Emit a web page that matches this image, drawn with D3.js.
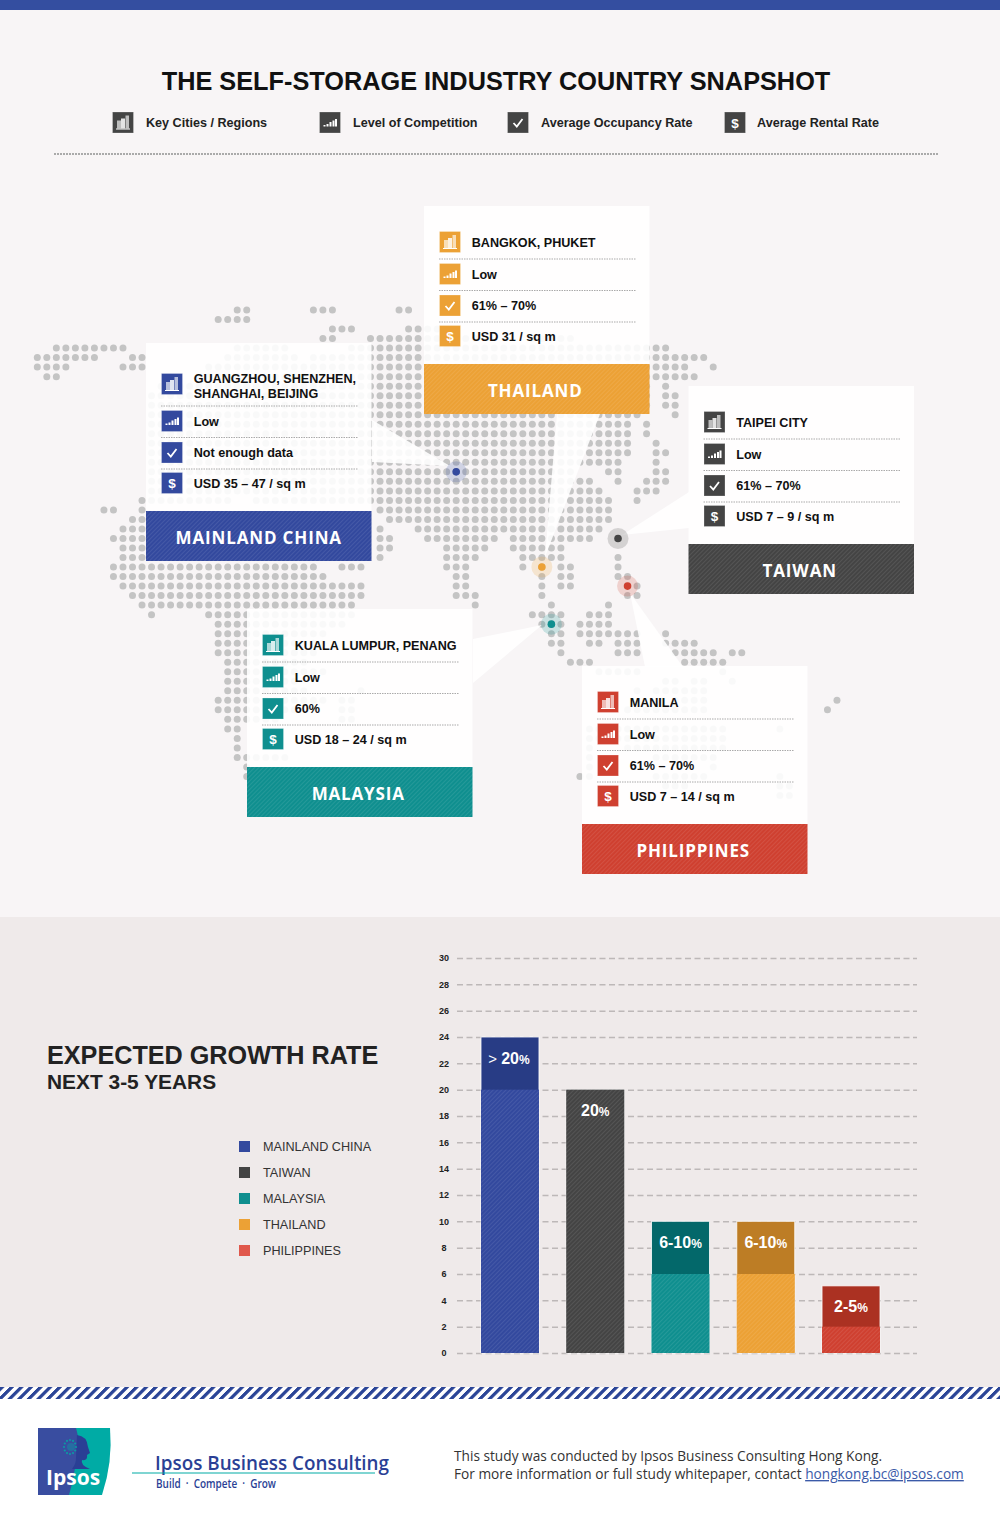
<!DOCTYPE html>
<html>
<head>
<meta charset="utf-8">
<script src="https://cdnjs.cloudflare.com/ajax/libs/d3/7.8.5/d3.min.js"></script>
<style>
html,body{margin:0;padding:0;background:#fff;}
svg{display:block;}
text{font-family:"Liberation Sans",Arial,sans-serif;}
</style>
</head>
<body>
<div id="chart"></div>
<script>
// 各國資料
var countries = ["MAINLAND CHINA", "THAILAND", "TAIWAN", "MALAYSIA", "PHILIPPINES"];
var cities = [["GUANGZHOU, SHENZHEN,", "SHANGHAI, BEIJING"], ["BANGKOK, PHUKET"], ["TAIPEI CITY"], ["KUALA LUMPUR, PENANG"], ["MANILA"]];
var competition = ["Low", "Low", "Low", "Low", "Low"];
var occupancy = ["Not enough data", "61% – 70%", "61% – 70%", "60%", "61% – 70%"];
var rental = ["USD 35 – 47 / sq m", "USD 31 / sq m", "USD 7 – 9 / sq m", "USD 18 – 24 / sq m", "USD 7 – 14 / sq m"];
var colors = ["#33499e", "#eca135", "#444444", "#0f8f8f", "#cf4030"];

// 成長率長條圖
var barOrder = ["MAINLAND CHINA", "TAIWAN", "MALAYSIA", "THAILAND", "PHILIPPINES"];
var barLow = [20, 20, 6, 6, 2];
var barHigh = [24, 20, 10, 10, 5.1];
var barPrefix = ["> ", "", "", "", ""];
var barLabels = ["20", "20", "6-10", "6-10", "2-5"];
var barColors = ["#33499e", "#444444", "#0f8f8f", "#eca135", "#cf4030"];
var barTopColors = ["#283c85", "#444444", "#03686a", "#bd7d25", "#ab3122"];
var legendColors = ["#33499e", "#444444", "#0f8f8f", "#eca135", "#e0584c"];
var yTicks = d3.range(0, 31, 2);

// 點陣地圖: 每一列是 欄起-欄迄
var mapRows = [
	"21-22 29-31 38-39",
	"19-22",
	"31-33 39-42",
	"30-31 35-46 52-56",
	"2-9 21-26 33-66",
	"0-6 10-11 20-27 29-70",
	"0-3 9-11 18-68 71",
	"1-2 17-69",
	"13-64 66",
	"12-64 66-67",
	"12-64 66-67",
	"12-63 67",
	"12-62 64",
	"12-62 64",
	"12-62 65",
	"12-62 65-66",
	"12-61 65",
	"12-56 60-61 65-66",
	"12-58 61 64-66",
	"12-59 63-65",
	"11-20 23-60 63",
	"7-8 11 36-60",
	"10-11 37-60",
	"9-11 36 40-59",
	"8-11 36-37 41-48 50-58",
	"9-11 36-37 43-47 50-55",
	"9-11 36 43-46 51-55 61",
	"8-29 32-34 43-45 51 53 55-56 61",
	"8-30 44-45 53 55-56 61-62",
	"9-34 44-45 53 55-56 63",
	"10-34 44-46 53 62-63",
	"11-33 46 54 60",
	"12 18-33 52-55 58-60",
	"19-32 53-55 57-60",
	"19-30 54-55 57-63 66",
	"19-30 54-55 58-59 61-63 66-69",
	"19-29 55 61-63 67-71 73-74",
	"20-28 56-58 68-72",
	"20-30 59-63 72",
	"20-27 66-67 69-70 73",
	"20-28 34 63 65-70",
	"19-30 32-33 67-70 84",
	"19-27 32-33 62-70 83",
	"20-25 32-33",
	"20-21 58-72 78",
	"21 58-72",
	"21 58 62-72",
	"21-26 58 65-71",
	"22 58 71",
	"22 57-58 65-70 78",
	"66-68 78-79",
	"78-79"
];
// 各國標記在點陣上的位置 [欄, 列]
var markerCells = [[44, 17], [53, 27], [61, 24], [54, 33], [62, 29]];

var width = 1000, height = 1527;
var svg = d3.select("#chart").append("svg").attr("width", width).attr("height", height);
var defs = svg.append("defs");

var col = d3.scaleLinear().domain([0, 10]).range([37.3, 132.5]);
var row = d3.scaleLinear().domain([0, 10]).range([310, 405.2]);

// 斜線底紋
function hatch(id, color, lineColor)
{
	var p = defs.append("pattern").attr("id", id)
		.attr("width", 3).attr("height", 3)
		.attr("patternUnits", "userSpaceOnUse")
		.attr("patternTransform", "rotate(-45)");
	p.append("rect").attr("width", 3).attr("height", 3).attr("fill", color);
	p.append("rect").attr("width", 3).attr("height", 1).attr("fill", lineColor);
}
colors.forEach(function(c, i){
	hatch("h" + i, c, c == "#444444" ? "#555555" : "rgba(255,255,255,0.09)");
});
barColors.forEach(function(c, i){
	hatch("b" + i, c, c == "#444444" ? "#555555" : "rgba(255,255,255,0.09)");
});

// 背景
svg.append("rect").attr("width", width).attr("height", height).attr("fill", "#fff");
svg.append("rect").attr("width", width).attr("height", 917).attr("fill", "#f8f5f6");
svg.append("rect").attr("width", width).attr("height", 10).attr("fill", "#344ea0");
svg.append("rect").attr("y", 917).attr("width", width).attr("height", 470).attr("fill", "#efeaea");

// 標題
svg.append("text").attr("x", 496).attr("y", 90).attr("text-anchor", "middle")
	.attr("font-size", 25.3).attr("font-weight", "bold").attr("fill", "#111")
	.text("THE SELF-STORAGE INDUSTRY COUNTRY SNAPSHOT");

// 畫小圖示
function drawIcon(g, kind, color, cx, cy)
{
	var ic = g.append("g").attr("transform", "translate(" + cx + "," + cy + ")");
	ic.append("rect").attr("x", -10.5).attr("y", -10.5).attr("width", 21).attr("height", 21)
		.attr("fill", color).attr("stroke", "#fff").attr("stroke-opacity", 0.25);
	if(kind == "city")
	{
		ic.append("rect").attr("x", -6).attr("y", -2).attr("width", 4).attr("height", 8).attr("fill", "#fff").attr("opacity", 0.65);
		ic.append("rect").attr("x", -2).attr("y", -4).attr("width", 4).attr("height", 10).attr("fill", "#fff").attr("opacity", 0.85);
		ic.append("rect").attr("x", 2.5).attr("y", -7).attr("width", 3.5).attr("height", 13).attr("fill", "#fff").attr("opacity", 0.65);
		ic.append("rect").attr("x", -7).attr("y", 6).attr("width", 14).attr("height", 1).attr("fill", "#fff");
	}
	else if(kind == "level")
	{
		[[-6.5, 1.5], [-3.5, 2.5], [-0.5, 4.5], [2.5, 6], [5, 7.5]].forEach(function(b){
			ic.append("rect").attr("x", b[0]).attr("y", 4 - b[1]).attr("width", 2).attr("height", b[1]).attr("fill", "#fff");
		});
	}
	else if(kind == "check")
	{
		ic.append("path").attr("d", "M-4.5,0.5 L-1.2,4 L4.5,-3.5").attr("fill", "none")
			.attr("stroke", "#fff").attr("stroke-width", 1.8);
	}
	else
	{
		ic.append("text").attr("y", 5).attr("text-anchor", "middle").attr("font-size", 13.5)
			.attr("font-weight", "bold").attr("fill", "#fff").text("$");
	}
}

// 上方圖例
var iconKinds = ["city", "level", "check", "rate"];
var legendNames = ["Key Cities / Regions", "Level of Competition", "Average Occupancy Rate", "Average Rental Rate"];
var legendIconX = [123, 330, 518, 735];
var legendTextX = [146, 353, 541, 757];
legendNames.forEach(function(d, i){
	drawIcon(svg, iconKinds[i], "#444444", legendIconX[i], 122.5);
	svg.append("text").attr("x", legendTextX[i]).attr("y", 127)
		.attr("font-size", 12.6).attr("font-weight", "bold").attr("fill", "#222").text(d);
});
svg.append("line").attr("x1", 54).attr("x2", 938).attr("y1", 154).attr("y2", 154)
	.attr("stroke", "#aaa").attr("stroke-width", 2).attr("stroke-dasharray", "2 1");

// 點陣地圖
var dots = [];
mapRows.forEach(function(line, r){
	line.split(" ").forEach(function(span){
		var p = span.split("-").map(Number);
		d3.range(p[0], (p.length > 1 ? p[1] : p[0]) + 1).forEach(function(c){
			dots.push([c, r]);
		});
	});
});
svg.append("g").selectAll("circle").data(dots).enter().append("circle")
	.attr("cx", function(d){return col(d[0]);})
	.attr("cy", function(d){return row(d[1]);})
	.attr("r", 3.5).attr("fill", "#c4c4c4");

// 卡片位置
var cardX = [146, 424, 688.5, 247, 582];
var cardY = [343, 206, 386, 609, 666];
var beams = [
	[[372, 420], [450, 466], [372, 462]],
	[[557, 414], [600, 414], [545, 557]],
	[[689, 492], [622, 535], [689, 528]],
	[[473, 639], [542, 625], [473, 683]],
	[[630, 593], [645, 667], [683, 667]]
];
var cardW = 225.5;

countries.forEach(function(name, i){
	svg.append("polygon").attr("points", beams[i].join(" "))
		.attr("fill", "#fff").attr("opacity", 0.9);

	var extra = cities[i].length > 1 ? 10 : 0;
	var cardH = 158 + extra;
	var g = svg.append("g").attr("transform", "translate(" + cardX[i] + "," + cardY[i] + ")");
	g.append("rect").attr("width", cardW).attr("height", cardH).attr("fill", "#fff").attr("opacity", 0.9);

	// 內容列
	var rowY = [36 + extra / 2, 68 + extra, 99.5 + extra, 130 + extra];
	drawIcon(g, "city", colors[i], 26, rowY[0]);
	drawIcon(g, "level", colors[i], 26, rowY[1]);
	drawIcon(g, "check", colors[i], 26, rowY[2]);
	drawIcon(g, "rate", colors[i], 26, rowY[3]);

	cities[i].forEach(function(t, k){
		var base = cities[i].length > 1 ? 39.5 + k * 15 : rowY[0] + 4.5;
		g.append("text").attr("x", 47.7).attr("y", base).attr("font-size", 12.6)
			.attr("font-weight", "bold").attr("fill", "#111").text(t);
	});
	[competition[i], occupancy[i], rental[i]].forEach(function(t, k){
		g.append("text").attr("x", 47.7).attr("y", rowY[k + 1] + 4.5).attr("font-size", 12.6)
			.attr("font-weight", "bold").attr("fill", "#111").text(t);
	});
	[53, 84.5, 116].forEach(function(y){
		g.append("line").attr("x1", 15).attr("x2", 212)
			.attr("y1", y + extra).attr("y2", y + extra)
			.attr("stroke", "#aaa").attr("stroke-dasharray", "1.5 1");
	});

	// 國名色塊
	g.append("rect").attr("y", cardH).attr("width", cardW).attr("height", 50).attr("fill", "url(#h" + i + ")");
	g.append("text").attr("x", cardW / 2 - (extra ? 0 : 1.5)).attr("y", cardH + 32.5).attr("text-anchor", "middle")
		.style("font-family", "'Open Sans'").attr("font-size", 17).attr("font-weight", "bold")
		.attr("letter-spacing", 0.85).attr("fill", "#fff").text(name);

	// 標記
	var mx = col(markerCells[i][0]), my = row(markerCells[i][1]);
	svg.append("circle").attr("cx", mx).attr("cy", my).attr("r", 10.5).attr("fill", colors[i]).attr("opacity", 0.2);
	svg.append("circle").attr("cx", mx).attr("cy", my).attr("r", 3.8).attr("fill", colors[i]);
});

// 成長率
svg.append("text").attr("x", 47).attr("y", 1064).attr("font-size", 25.2).attr("font-weight", "bold").attr("fill", "#222").text("EXPECTED GROWTH RATE");
svg.append("text").attr("x", 47).attr("y", 1089).attr("font-size", 20.9).attr("font-weight", "bold").attr("fill", "#222").text("NEXT 3-5 YEARS");

var legendY = d3.scalePoint().domain(barOrder).range([1146.5, 1250.5]);
barOrder.forEach(function(name, i){
	svg.append("rect").attr("x", 239).attr("y", legendY(name) - 5.5).attr("width", 11).attr("height", 11).attr("fill", legendColors[i]);
	svg.append("text").attr("x", 263).attr("y", legendY(name) + 4.5).attr("font-size", 12.65).attr("fill", "#333").text(name);
});

var y = d3.scaleLinear().domain([0, 30]).range([1353, 958]);
var x = d3.scaleBand().domain(barOrder).range([481, 880]).paddingInner(0.32).paddingOuter(0);

var axis = svg.append("g").attr("transform", "translate(457,0)")
	.call(d3.axisLeft(y).tickValues(yTicks).tickSize(-460).tickPadding(8));
axis.select(".domain").remove();
axis.selectAll("line").attr("stroke", "#bdb8b8").attr("stroke-width", 1.5).attr("stroke-dasharray", "6 3.5");
axis.selectAll("text").attr("x", -13).attr("text-anchor", "middle")
	.style("font-family", "'Liberation Sans'").attr("font-size", 9).attr("font-weight", "bold").attr("fill", "#222");

var bars = svg.append("g");
barOrder.forEach(function(name, i){
	bars.append("rect").attr("x", x(name)).attr("y", y(barHigh[i]))
		.attr("width", x.bandwidth()).attr("height", y(0) - y(barHigh[i]))
		.attr("fill", barTopColors[i]).attr("stroke", "#fff").attr("stroke-opacity", 0.8);
	bars.append("rect").attr("x", x(name)).attr("y", y(barLow[i]))
		.attr("width", x.bandwidth()).attr("height", y(0) - y(barLow[i]))
		.attr("fill", "url(#b" + i + ")");
	var label = bars.append("text").attr("x", x(name) + x.bandwidth() / 2 - (i == 0 ? 1 : 0)).attr("y", y(barHigh[i]) + 26.5)
		.attr("text-anchor", "middle").attr("font-size", 16).attr("font-weight", "bold").attr("fill", "#fff");
	if(barPrefix[i] != "")
	{
		label.append("tspan").attr("font-size", 15).attr("font-weight", "normal").text(barPrefix[i]);
	}
	label.append("tspan").text(barLabels[i]);
	label.append("tspan").attr("font-size", 12).text("%");
});

// 底部斜紋
var st = defs.append("pattern").attr("id", "stripe").attr("width", 9.6).attr("height", 12)
	.attr("patternUnits", "userSpaceOnUse").attr("patternTransform", "translate(0,1387) skewX(-45)");
st.append("rect").attr("width", 4.6).attr("height", 12).attr("fill", "#2b4597");
svg.append("rect").attr("y", 1387).attr("width", width).attr("height", 12).attr("fill", "url(#stripe)");

// 標誌
var logo = svg.append("g");
logo.append("path").attr("d", "M38,1428 H110 Q113,1462 102,1495 H38 Z").attr("fill", "#00aba5");
logo.append("path").attr("d", "M38,1428 H76 Q80,1440 77,1455 Q74,1478 69,1495 H38 Z").attr("fill", "#394da0");
// 右半是側臉, 左半是樹冠
logo.append("path").attr("d", "M77,1435 Q87,1436 88,1447 L90,1453 L87,1455 Q88,1461 82,1460 Q80,1465 90,1469 H72 Q76,1464 76,1458 Z")
	.attr("fill", "#2a3f95");
logo.selectAll(".crown").data(d3.range(0, 360, 30)).enter().append("circle")
	.attr("cx", function(d){return 70 + 6 * Math.cos(d * Math.PI / 180);})
	.attr("cy", function(d){return 1447 + 7 * Math.sin(d * Math.PI / 180);})
	.attr("r", 1.1).attr("fill", "#00aba5").attr("opacity", 0.8);
logo.append("circle").attr("cx", 71).attr("cy", 1447).attr("r", 4).attr("fill", "#00aba5").attr("opacity", 0.35);
logo.append("text").attr("x", 46).attr("y", 1485).style("font-family", "'Open Sans'").attr("font-size", 21).attr("font-weight", "bold").attr("fill", "#fff").text("Ipsos");

svg.append("text").attr("x", 155).attr("y", 1470).style("font-family", "'Open Sans'").attr("font-size", 19).attr("font-weight", 600)
	.attr("fill", "#2a3f95").attr("textLength", 234).attr("lengthAdjust", "spacingAndGlyphs").text("Ipsos Business Consulting");
svg.append("line").attr("x1", 132).attr("x2", 375).attr("y1", 1473).attr("y2", 1473).attr("stroke", "#00aba5").attr("stroke-width", 1.2);
svg.append("text").attr("x", 156).attr("y", 1488).style("font-family", "'Open Sans'").attr("font-size", 12).attr("font-weight", 600)
	.attr("fill", "#2a3f95").attr("textLength", 120).attr("lengthAdjust", "spacingAndGlyphs").text("Build\u00a0\u00a0·\u00a0\u00a0Compete\u00a0\u00a0·\u00a0\u00a0Grow");

svg.append("text").attr("x", 454).attr("y", 1461).style("font-family", "'Open Sans'").attr("font-size", 13.7).attr("fill", "#333")
	.text("This study was conducted by Ipsos Business Consulting Hong Kong.");
var foot = svg.append("text").attr("x", 454).attr("y", 1479).style("font-family", "'Open Sans'").attr("font-size", 13.7).attr("fill", "#333");
foot.append("tspan").text("For more information or full study whitepaper, contact ");
foot.append("tspan").attr("fill", "#3b5aa8").attr("text-decoration", "underline").text("hongkong.bc@ipsos.com");
</script>
</body>
</html>
